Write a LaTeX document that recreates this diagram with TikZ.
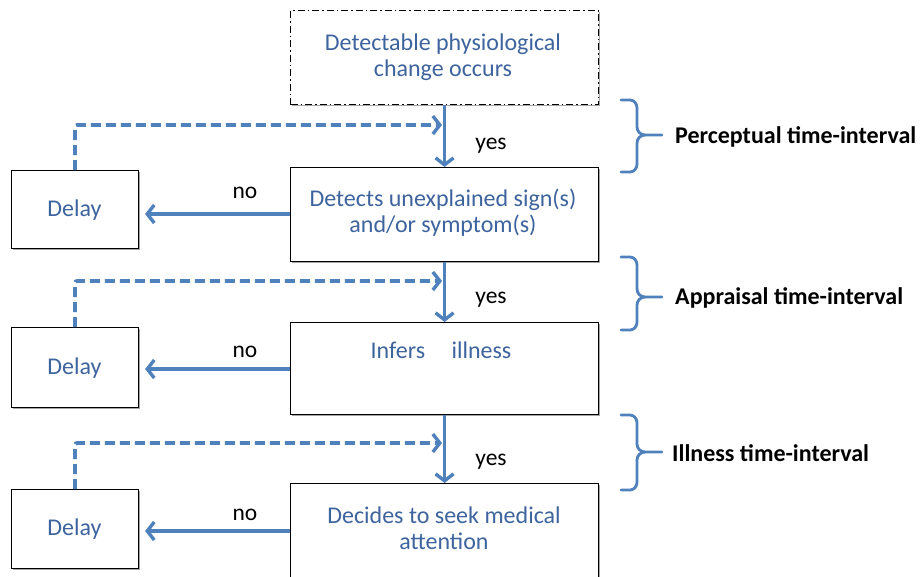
\documentclass[tikz,border=0pt]{standalone}
\usepackage{fontspec}
\setmainfont{Carlito}
\usetikzlibrary{arrows.meta,shadows}
\definecolor{lineblue}{RGB}{79,129,189}
\definecolor{textblue}{RGB}{62,100,158}
\begin{document}
\begin{tikzpicture}[x=1pt,y=-1pt,
  boxbase/.style={draw=black, line width=1.1pt, fill=white, inner sep=0pt, anchor=north west,
    drop shadow={shadow xshift=1.3pt, shadow yshift=-1.3pt, fill=black, opacity=0.35}},
  mainbox/.style={boxbase, minimum width=308pt},
  delaybox/.style={boxbase, minimum width=127pt},
  btext/.style={text=textblue, align=center, font=\fontsize{24}{26}\selectfont, inner sep=0pt},
  lbl/.style={text=black, font=\fontsize{23.5}{26}\selectfont, inner sep=0pt},
  brlbl/.style={text=black, font=\bfseries\fontsize{24}{26}\selectfont, inner sep=0pt, anchor=west},
  flow/.style={draw=lineblue, line width=3.8pt, -{Straight Barb[length=7pt,width=18pt,line width=3.4pt]}},
  dflow/.style={flow, dash pattern=on 10pt off 5pt},
  brace/.style={draw=lineblue, line width=2.8pt, line cap=round},
]
\useasboundingbox (0,0) rectangle (923,576);
\clip (0,0) rectangle (923,576);

% main boxes
\node[mainbox, minimum height=94pt, drop shadow={opacity=0}, dash pattern=on 7pt off 3pt on 1.5pt off 3pt] (b1) at (290,10) {};
\node[btext] (t1) at (443,57) {Detectable physiological\\change occurs};
\node[mainbox, minimum height=94pt] (b2) at (290,167) {};
\node[btext] (t2) at (443,213) {Detects unexplained sign(s)\\and/or symptom(s)};
\node[mainbox, minimum height=92pt] (b3) at (290,322) {};
\node[btext] (t3) at (441,350) {Infers\hspace{1.1em}illness};
\node[mainbox, minimum height=100pt] (b4) at (290,483) {};
\node[btext] (t4) at (444,528) {Decides to seek medical\\attention};

% delay boxes
\node[delaybox, minimum height=78pt] (d1) at (11,170) {};
\node[btext] (dt1) at (74.5,210) {Delay};
\node[delaybox, minimum height=80pt] (d2) at (11,327) {};
\node[btext] (dt2) at (74.5,368) {Delay};
\node[delaybox, minimum height=79pt] (d3) at (11,489) {};
\node[btext] (dt3) at (74.5,529.5) {Delay};

% junction coordinates on the vertical arrows
\coordinate (j1) at (444,125);
\coordinate (j2) at (444,281);
\coordinate (j3) at (444,443);

% vertical yes-arrows
\draw[flow] (b1.south) -- (b2.north);
\draw[flow] (b2.south) -- (b3.north);
\draw[flow] (b3.south) -- (b4.north);

% dashed feedback arrows
\draw[dflow, rounded corners=2pt] (d1.north) |- ([xshift=-2pt]j1);
\draw[dflow, rounded corners=2pt] (d2.north) |- ([xshift=-2pt]j2);
\draw[dflow, rounded corners=2pt] (d3.north) |- ([xshift=-2pt]j3);

% no-arrows
\coordinate (n1) at (290,214);
\coordinate (n2) at (290,369);
\coordinate (n3) at (290,531);
\draw[flow, shorten >=6pt] (n1) -- (n1 -| d1.east);
\draw[flow, shorten >=6pt] (n2) -- (n2 -| d2.east);
\draw[flow, shorten >=6pt] (n3) -- (n3 -| d3.east);

% yes / no labels
\node[lbl] (y1) at (491,146) {yes};
\node[lbl] (y2) at (491,300) {yes};
\node[lbl] (y3) at (491,462) {yes};
\node[lbl] (no1) at (245,193) {no};
\node[lbl] (no2) at (245,352) {no};
\node[lbl] (no3) at (245,515) {no};

% braces
\draw[brace] (621,100) -- (630,100) to[out=0,in=90] (637,108) -- (637,127) to[out=-90,in=180] (645,135) -- (662,135);
\draw[brace] (645,135) to[out=180,in=90] (637,143) -- (637,164) to[out=-90,in=0] (630,172) -- (621,172);
\draw[brace] (621,257) -- (630,257) to[out=0,in=90] (637,265) -- (637,289) to[out=-90,in=180] (645,297) -- (662,297);
\draw[brace] (645,297) to[out=180,in=90] (637,305) -- (637,322) to[out=-90,in=0] (630,330) -- (621,330);
\draw[brace] (621,415) -- (630,415) to[out=0,in=90] (637,423) -- (637,444) to[out=-90,in=180] (645,452) -- (662,452);
\draw[brace] (645,452) to[out=180,in=90] (637,460) -- (637,482) to[out=-90,in=0] (630,490) -- (621,490);

\node[brlbl] (p1) at (675,137) {Perceptual time-interval};
\node[brlbl] (p2) at (675,298) {Appraisal time-interval};
\node[brlbl] (p3) at (672,453) {Illness time-interval};
\end{tikzpicture}
\end{document}
